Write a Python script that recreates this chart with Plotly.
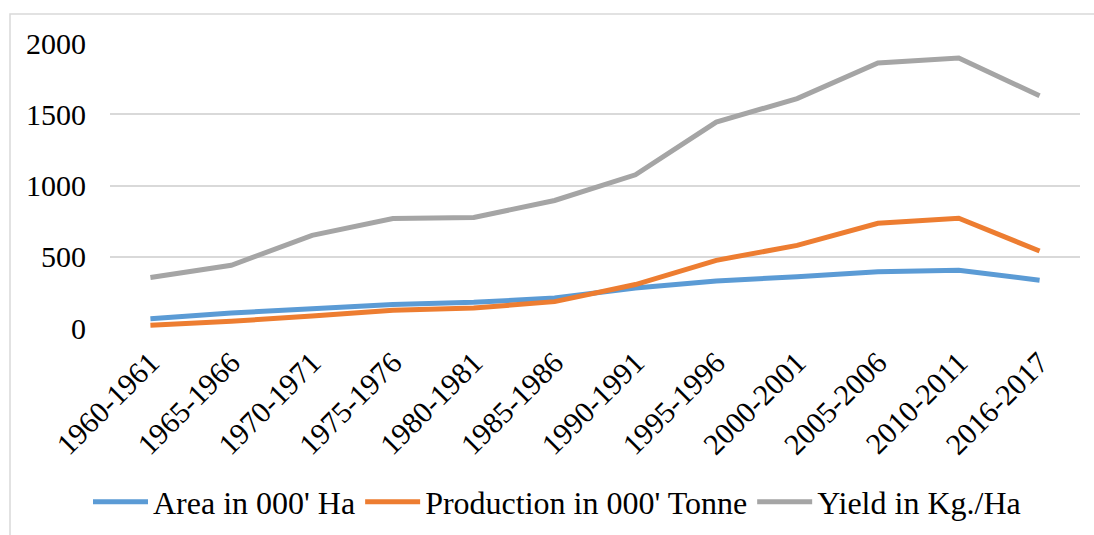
import plotly.graph_objects as go

categories = ["1960-1961", "1965-1966", "1970-1971", "1975-1976", "1980-1981",
              "1985-1986", "1990-1991", "1995-1996", "2000-2001", "2005-2006",
              "2010-2011", "2016-2017"]
area = [65, 105, 135, 165, 180, 210, 280, 330, 360, 395, 405, 335]
production = [20, 47, 85, 125, 140, 185, 305, 475, 580, 735, 770, 540]
yield_kg = [355, 440, 650, 768, 775, 895, 1075, 1445, 1610, 1860, 1895, 1630]

series = [
    ("Area in 000' Ha", area, "#5B9BD5"),
    ("Production in 000' Tonne", production, "#ED7D31"),
    ("Yield in Kg./Ha", yield_kg, "#A5A5A5"),
]

FONT = "Liberation Serif"

fig = go.Figure()
for name, vals, color in series:
    fig.add_trace(go.Scatter(
        x=categories, y=vals, name=name, mode="lines",
        line=dict(color=color, width=5),
    ))

W, H = 1094, 535
L, R, T, B = 110, 14, 43, 207
pw, ph = W - L - R, H - T - B

def px_x(x):
    return (x - L) / pw

def px_y(y):
    return (H - B - y) / ph

fig.update_layout(
    width=W, height=H,
    margin=dict(l=L, r=R, t=T, b=B, autoexpand=False),
    paper_bgcolor="white", plot_bgcolor="white",
    font=dict(family=FONT, size=30, color="black"),
    showlegend=True,
    legend=dict(
        orientation="h", x=px_x(557), xanchor="center",
        y=px_y(502), yanchor="middle",
        font=dict(family=FONT, size=32, color="black"),
        itemwidth=55, tracegroupgap=0,
        bgcolor="rgba(0,0,0,0)",
    ),
    xaxis=dict(
        type="category", range=[-0.5, len(categories) - 0.5],
        tickangle=-45, showgrid=False, zeroline=False, showline=False,
        ticks="", ticklabelstandoff=10, automargin=False,
        tickfont=dict(family=FONT, size=30, color="black"),
    ),
    yaxis=dict(
        range=[0, 2000], tickvals=[0, 500, 1000, 1500, 2000],
        showgrid=True, gridcolor="#D9D9D9", gridwidth=1.5,
        zeroline=False, showline=False, ticks="", ticklabelstandoff=23,
        automargin=False,
        tickfont=dict(family=FONT, size=30, color="black"),
    ),
    shapes=[dict(
        type="rect", xref="paper", yref="paper",
        x0=px_x(10), x1=px_x(1110), y0=px_y(545), y1=px_y(14),
        line=dict(color="#D9D9D9", width=1.5), fillcolor="rgba(0,0,0,0)",
        layer="below",
    )],
)

fig.write_html(
    "out.html",
    config={"displayModeBar": False},
    post_script="document.body.style.margin='0';document.body.style.overflow='hidden';",
)
